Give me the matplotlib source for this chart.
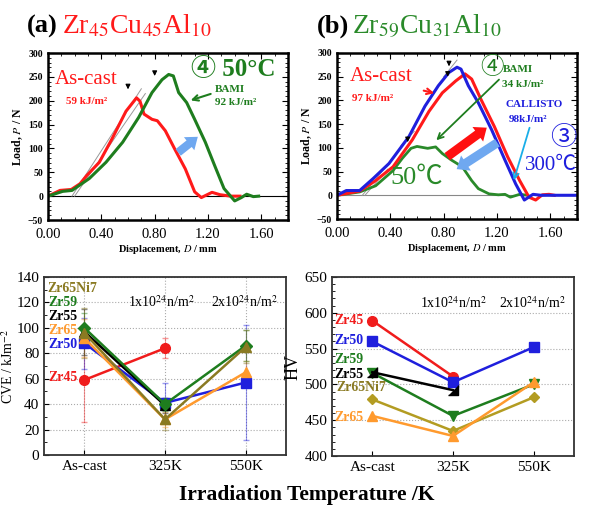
import numpy as np
import matplotlib
matplotlib.use('Agg')
import matplotlib.pyplot as plt
from matplotlib.ticker import MultipleLocator

plt.rcParams['font.family'] = ['Liberation Serif', 'Noto Sans CJK JP', 'DejaVu Sans']
plt.rcParams['mathtext.fontset'] = 'stix'

# (a) Zr45Cu45Al10 load-displacement curves
a_cast_d = [0, 0.09, 0.175, 0.24, 0.29, 0.385, 0.48, 0.585, 0.664, 0.69, 0.72, 0.78, 0.82, 0.88, 0.95, 1.03, 1.10, 1.15, 1.23, 1.29, 1.37, 1.44]
a_cast_p = [0, 12, 14, 26, 43, 71, 120, 178, 206, 199, 172, 161, 158, 137, 99, 57, 9, -3, 8, 3, 0, 0]
a_bami_d = [0, 0.11, 0.18, 0.31, 0.435, 0.56, 0.68, 0.78, 0.855, 0.905, 0.94, 0.98, 1.04, 1.10, 1.18, 1.25, 1.32, 1.40, 1.45, 1.49, 1.54, 1.58]
a_bami_p = [0, 10, 12, 37, 71, 113, 165, 217, 244, 255, 252, 217, 196, 161, 113, 64, 16, -10, -3, 4, -1, 0]

# (b) Zr59Cu31Al10 load-displacement curves
b_cast_d = [0, 0.17, 0.29, 0.42, 0.565, 0.69, 0.79, 0.89, 0.96, 1.01, 1.08, 1.18, 1.28, 1.37, 1.44, 1.49, 1.54, 1.59, 1.63]
b_cast_p = [0, 9, 31, 60, 117, 177, 216, 241, 256, 245, 202, 145, 81, 31, -4, -10, 1, 2, 0]
b_call_d = [0, 0.07, 0.17, 0.27, 0.39, 0.54, 0.66, 0.76, 0.84, 0.90, 0.93, 0.985, 1.06, 1.16, 1.26, 1.34, 1.405, 1.47, 1.53, 1.8]
b_call_p = [0, 10, 10, 35, 67, 124, 188, 231, 259, 270, 266, 231, 195, 138, 74, 24, -10, 2, 0, 0]
b_50c_d = [0, 0.17, 0.29, 0.42, 0.49, 0.555, 0.60, 0.68, 0.74, 0.79, 0.86, 0.94, 1.01, 1.06, 1.14, 1.21, 1.26, 1.30, 1.37, 1.43]
b_50c_p = [0, 7, 20, 52, 78, 99, 103, 99, 102, 88, 74, 60, 31, 14, 3, 1, 2, -4, 2, 0]

# CVE (kJ/m2) and HV vs irradiation condition
temps = ['As-cast', '325K', '550K']
cve_zr45 = [59, 84, np.nan]
cve_zr50 = [88, 41, 57]
cve_zr65 = [92, 28, 65]
cve_zr55 = [97, 39, np.nan]
cve_zr59 = [100, 40, 86]
cve_zr65ni7 = [96, 28, 85]
err_zr45 = [33, 8, 0]
err_zr50 = [20, 16, 45]
err_zr65 = [15, 6, 9]
err_zr55 = [18, 6, 0]
err_zr59 = [12, 5, 12]
err_zr65ni7 = [20, 8, 13]

hv_zr45 = [589, 511, np.nan]
hv_zr50 = [560, 503, 552]
hv_zr59 = [516, 456, 500]
hv_zr55 = [517, 492, np.nan]
hv_zr65ni7 = [479, 435, 482]
hv_zr65 = [456, 428, 503]

RED = '#f01c1c'
GREEN = '#1e7d1e'
BLUE = '#1f1fdd'
ORANGE = '#ff9a2e'
OLIVE = '#8a7a22'
OLIVE2 = '#b39c22'
LBLUE = '#6fa8f0'

fig = plt.figure(figsize=(5.9, 5.09), dpi=100)
W, H = 590, 509

def box(l, t, r, b):
    return [l / W, 1 - b / H, (r - l) / W, (b - t) / H]

ax_a = fig.add_axes(box(48, 53, 288, 220))
ax_b = fig.add_axes(box(337, 53, 577, 219))
ax_c = fig.add_axes(box(44, 277, 286, 455))
ax_h = fig.add_axes(box(332, 277, 574, 456))

for ax in (ax_a, ax_b):
    ax.set_xlim(0, 1.8)
    ax.set_ylim(-50, 300)
    ax.xaxis.set_major_locator(MultipleLocator(0.4))
    ax.xaxis.set_minor_locator(MultipleLocator(0.1))
    ax.yaxis.set_major_locator(MultipleLocator(50))
    ax.yaxis.set_minor_locator(MultipleLocator(10))
    ax.tick_params(which='both', direction='in', top=True, right=True)
    ax.tick_params(which='major', length=4)
    ax.tick_params(which='minor', length=2)
    ax.tick_params(axis='x', labelsize=10.5, pad=6)
    ax.tick_params(axis='y', labelsize=7)
    ax.set_xticklabels(['%.2f' % v for v in ax.get_xticks()])
    for lab in ax.get_yticklabels():
        lab.set_fontweight('bold')
    for s in ax.spines.values():
        s.set_linewidth(1.8)
    ax.set_xlabel('Displacement, $D$ / mm', fontsize=7.5, fontweight='bold', labelpad=1)
    ax.set_ylabel('Load, $P$ / N', fontsize=8.5, fontweight='bold', labelpad=2)

def peak_arrow(ax, xx, yy):
    ax.annotate('', xy=(xx, yy), xytext=(xx, yy + 18),
                arrowprops=dict(arrowstyle='-|>', color='black', lw=0.8, mutation_scale=7))

# ---- panel (a)
ax_a.axhline(0, color='black', lw=0.8)
ax_a.plot([0.18, 0.70], [0, 225], color='#999999', lw=0.7)
ax_a.plot([0.20, 0.73], [0, 215], color='#999999', lw=0.7)
ax_a.plot(a_cast_d, a_cast_p, color='#ff1a1a', lw=2.2)
ax_a.plot(a_bami_d, a_bami_p, color=GREEN, lw=2.2)
peak_arrow(ax_a, 0.60, 218)
peak_arrow(ax_a, 0.80, 246)
ax_a.text(0.29, 244, 'As-cast', color='#ff1a1a', fontsize=15, ha='center', va='center')
ax_a.text(0.29, 198, '59 kJ/m²', color='#ff1a1a', fontsize=8, fontweight='bold', ha='center', va='center')
ax_a.text(1.39, 265, '④ 50°C', color=GREEN, fontsize=18, fontweight='bold', ha='center', va='center')
ax_a.text(1.25, 223, 'BAMI', color=GREEN, fontsize=8, fontweight='bold', ha='left', va='center')
ax_a.text(1.25, 196, '92 kJ/m²', color=GREEN, fontsize=8, fontweight='bold', ha='left', va='center')
ax_a.annotate('', xy=(1.05, 199), xytext=(1.24, 216),
              arrowprops=dict(arrowstyle='->', color=GREEN, lw=1.5))
ax_a.annotate('', xy=(1.14, 128), xytext=(0.96, 88),
              arrowprops=dict(arrowstyle='simple,head_length=0.8,head_width=1.2,tail_width=0.6',
                              color=LBLUE, lw=0))

# ---- panel (b)
ax_b.axhline(0, color='#888888', lw=0.8)
ax_b.plot([0.19, 0.36], [0, 58], color='#999999', lw=0.7)
ax_b.plot([0.21, 0.38], [0, 55], color='#999999', lw=0.7)
ax_b.plot([0.48, 0.58], [105, 135], color='#999999', lw=0.7)
ax_b.plot([0.80, 0.90], [250, 285], color='#999999', lw=0.7)
ax_b.plot(b_50c_d, b_50c_p, color='#2a8a2a', lw=2.0)
ax_b.plot(b_cast_d, b_cast_p, color='#ff1a1a', lw=2.2)
ax_b.plot(b_call_d, b_call_p, color=BLUE, lw=2.2)
peak_arrow(ax_b, 0.84, 266)
peak_arrow(ax_b, 0.83, 244)
peak_arrow(ax_b, 0.53, 106)
ax_b.text(0.33, 251, 'As-cast', color='#ff1a1a', fontsize=15, ha='center', va='center')
ax_b.text(0.27, 204, '97 kJ/m²', color='#ff1a1a', fontsize=8, fontweight='bold', ha='center', va='center')
ax_b.annotate('', xy=(0.75, 214), xytext=(0.63, 222),
              arrowprops=dict(arrowstyle='->', color='#ff1a1a', lw=1.5))
ax_b.text(1.16, 268, '④', color=GREEN, fontsize=17, ha='center', va='center')
ax_b.text(1.24, 266, 'BAMI', color=GREEN, fontsize=8, fontweight='bold', ha='left', va='center')
ax_b.text(1.24, 233, '34 kJ/m²', color=GREEN, fontsize=8, fontweight='bold', ha='left', va='center')
ax_b.annotate('', xy=(0.73, 112), xytext=(1.23, 248),
              arrowprops=dict(arrowstyle='->', color=GREEN, lw=1.3))
ax_b.text(1.26, 191, 'CALLISTO', color=BLUE, fontsize=8, fontweight='bold', ha='left', va='center')
ax_b.text(1.29, 159, '98kJ/m²', color=BLUE, fontsize=8, fontweight='bold', ha='left', va='center')
ax_b.annotate('', xy=(1.32, 26), xytext=(1.45, 148),
              arrowprops=dict(arrowstyle='->', color='#19aee8', lw=1.3))
ax_b.text(1.70, 121, '③', color=BLUE, fontsize=19, ha='center', va='center')
ax_b.text(1.41, 62, '300℃', color=BLUE, fontsize=15, ha='left', va='center')
ax_b.text(0.60, 37, '50℃', color='#2a8a2a', fontsize=19, ha='center', va='center')
ax_b.annotate('', xy=(1.14, 146), xytext=(0.81, 78),
              arrowprops=dict(arrowstyle='simple,head_length=0.8,head_width=1.3,tail_width=0.65',
                              color='#ff1010', lw=0))
ax_b.annotate('', xy=(0.88, 52), xytext=(1.22, 114),
              arrowprops=dict(arrowstyle='simple,head_length=0.8,head_width=1.3,tail_width=0.65',
                              color=LBLUE, lw=0))

fig.text(27 / W, 1 - 33 / H, '(a)', fontsize=19, fontweight='bold')
fig.text(62 / W, 1 - 33 / H, r'Zr$_{45}$Cu$_{45}$Al$_{10}$', fontsize=20, color='#ff1a1a')
fig.text(317 / W, 1 - 33 / H, '(b)', fontsize=19, fontweight='bold')
fig.text(352 / W, 1 - 33 / H, r'Zr$_{59}$Cu$_{31}$Al$_{10}$', fontsize=20, color='#2a8a2a')

# ---- CVE panel
x = np.arange(len(temps))
cve_series = [
    (cve_zr45, err_zr45, RED, 'o'),
    (cve_zr50, err_zr50, BLUE, 's'),
    (cve_zr65, err_zr65, ORANGE, '^'),
    (cve_zr55, err_zr55, 'black', '^'),
    (cve_zr59, err_zr59, GREEN, 'D'),
    (cve_zr65ni7, err_zr65ni7, OLIVE, '^'),
]
for vals, err, col, mk in cve_series:
    ax_c.errorbar(x, vals, yerr=err, fmt='none', ecolor=col, alpha=0.45, lw=0.8, capsize=2)
for vals, err, col, mk in cve_series:
    ax_c.plot(x, vals, color=col, marker=mk, ms=7 if mk != 'D' else 6, lw=1.8)
ax_c.set_xlim(-0.5, 2.5)
ax_c.set_ylim(0, 140)
ax_c.set_xticks(x)
ax_c.set_xticklabels(temps)
ax_c.yaxis.set_major_locator(MultipleLocator(20))
ax_c.yaxis.set_minor_locator(MultipleLocator(10))
ax_c.grid(True, ls=':', color='#aaaaaa', lw=0.8)
ax_c.set_axisbelow(True)
ax_c.set_ylabel('CVE / kJm$^{-2}$', fontsize=10, labelpad=0)
ax_c.text(0.95, 120, r'1x10$^{24}$n/m$^{2}$', fontsize=10, ha='center', va='center')
ax_c.text(1.98, 120, r'2x10$^{24}$n/m$^{2}$', fontsize=10, ha='center', va='center')
ax_c.text(-0.46, 131, 'Zr65Ni7', color=OLIVE, fontsize=10, fontweight='bold', ha='left', va='center')
cve_lab = [('Zr59', 120, GREEN), ('Zr55', 109, 'black'), ('Zr65', 98, ORANGE),
           ('Zr50', 87, BLUE), ('Zr45', 61, RED)]
for name, yy, col in cve_lab:
    ax_c.text(-0.08, yy, name, color=col, fontsize=10, fontweight='bold', ha='right', va='center')

# ---- HV panel
hv_series = [
    (hv_zr45, RED, 'o'),
    (hv_zr50, BLUE, 's'),
    (hv_zr59, GREEN, 'v'),
    (hv_zr55, 'black', [(-1, -1), (1, -1), (1, 1)]),
    (hv_zr65ni7, OLIVE2, 'D'),
    (hv_zr65, ORANGE, '^'),
]
for vals, col, mk in hv_series:
    ax_h.plot(x, vals, color=col, marker=mk, ms=7 if mk != 'D' else 5.5, lw=1.8)
ax_h.set_xlim(-0.5, 2.5)
ax_h.set_ylim(400, 650)
ax_h.set_xticks(x)
ax_h.set_xticklabels(temps)
ax_h.yaxis.set_major_locator(MultipleLocator(50))
ax_h.yaxis.set_minor_locator(MultipleLocator(10))
ax_h.yaxis.grid(True, ls=':', color='#aaaaaa', lw=0.8)
ax_h.set_axisbelow(True)
ax_h.set_ylabel('HV', fontsize=13, labelpad=2)
ax_h.text(1.01, 614, r'1x10$^{24}$n/m$^{2}$', fontsize=10, ha='center', va='center')
ax_h.text(1.98, 614, r'2x10$^{24}$n/m$^{2}$', fontsize=10, ha='center', va='center')
hv_lab = [('Zr45', 589, RED), ('Zr50', 561, BLUE), ('Zr59', 535, GREEN),
          ('Zr55', 514, 'black'), ('Zr65', 454, ORANGE)]
for name, yy, col in hv_lab:
    ax_h.text(-0.11, yy, name, color=col, fontsize=10, fontweight='bold', ha='right', va='center')
ax_h.text(-0.45, 495, 'Zr65Ni7', color=OLIVE, fontsize=10, fontweight='bold', ha='left', va='center')

for ax in (ax_c, ax_h):
    ax.tick_params(which='both', direction='in', labelsize=11)
    ax.tick_params(which='minor', length=2)
    for s in ax.spines.values():
        s.set_linewidth(1.3)
        s.set_color('#333333')

fig.text(0.52, 1 - 495 / H, 'Irradiation Temperature /K', fontsize=15.5, fontweight='bold',
         ha='center', va='center')

fig.savefig('out.png', dpi=100)
